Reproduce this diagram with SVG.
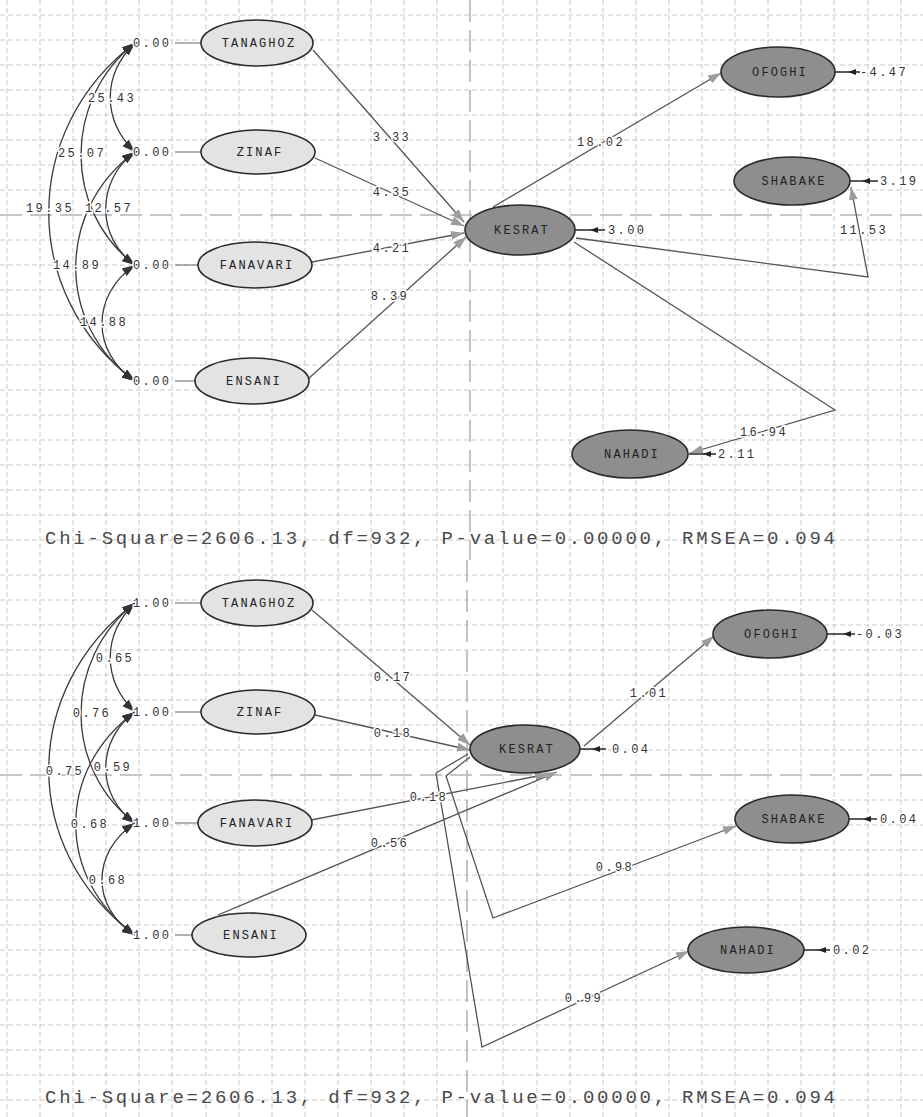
<svg xmlns="http://www.w3.org/2000/svg" width="923" height="1117" viewBox="0 0 923 1117">
<style>
.grid{fill:none;stroke:#c9c9c9;stroke-width:1;stroke-dasharray:5 3}
.axis{fill:none;stroke:#b4b4b4;stroke-width:1.6;stroke-dasharray:22 8}
.exo{fill:#e3e3e3;stroke:#2a2a2a;stroke-width:1.6}
.endo{fill:#8e8e8e;stroke:#2a2a2a;stroke-width:1.6}
.nl{font-family:"Liberation Mono",monospace;font-size:12px;letter-spacing:2.1px;fill:#222;text-anchor:middle}
.val{font-family:"Liberation Mono",monospace;font-size:12px;letter-spacing:2.4px;fill:#333;paint-order:stroke;stroke:#fff;stroke-width:3px}
.cv{text-anchor:middle}
.cov{fill:none;stroke:#3a3a3a;stroke-width:1.3;marker-start:url(#ad);marker-end:url(#ad)}
.pth{fill:none;stroke:#555;stroke-width:1.3;marker-end:url(#ag)}
.var{fill:none;stroke:#666;stroke-width:1.2}
.err{fill:none;stroke:#333;stroke-width:1.6;marker-mid:url(#ae)}
.chi{font-family:"Liberation Mono",monospace;font-size:19px;fill:#4a4a4a}
</style>
<defs>
<marker id="ag" viewBox="0 0 13 9" refX="13" refY="4.5" markerWidth="13" markerHeight="9" markerUnits="userSpaceOnUse" orient="auto"><path d="M0,0 L13,4.5 L0,9 z" fill="#9c9c9c"/></marker>
<marker id="ad" viewBox="0 0 13 9" refX="13" refY="4.5" markerWidth="13" markerHeight="9" markerUnits="userSpaceOnUse" orient="auto-start-reverse"><path d="M0,0 L13,4.5 L0,9 z" fill="#333"/></marker>
<marker id="ae" viewBox="0 0 8 6" refX="4" refY="3" markerWidth="8" markerHeight="6" markerUnits="userSpaceOnUse" orient="auto"><path d="M0,0 L8,3 L0,6 z" fill="#222"/></marker>
</defs>
<rect width="923" height="1117" fill="#fff"/>
<g id="grid">
<path class="grid" d="M7 0V1117M40 0V1117M73 0V1117M106 0V1117M139 0V1117M172 0V1117M206 0V1117M239 0V1117M272 0V1117M305 0V1117M338 0V1117M371 0V1117M404 0V1117M437 0V1117M503 0V1117M537 0V1117M570 0V1117M603 0V1117M636 0V1117M669 0V1117M702 0V1117M735 0V1117M768 0V1117M801 0V1117M834 0V1117M868 0V1117M901 0V1117"/>
<path class="grid" d="M0 15H923M0 40H923M0 65H923M0 90H923M0 115H923M0 140H923M0 165H923M0 190H923M0 240H923M0 265H923M0 290H923M0 315H923M0 340H923M0 365H923M0 390H923M0 415H923M0 440H923M0 465H923M0 490H923M0 515H923M0 540H923"/>
<path class="grid" d="M0 575H923M0 600H923M0 625H923M0 650H923M0 675H923M0 700H923M0 725H923M0 750H923M0 800H923M0 825H923M0 850H923M0 875H923M0 900H923M0 925H923M0 950H923M0 975H923M0 1000H923M0 1025H923M0 1050H923M0 1075H923M0 1100H923"/>
<path class="axis" d="M470 0V560M467 560V1117M0 215H923M0 775H923"/>
</g>

<g id="connectors">
<path class="cov" d="M135,43 C102,75 102,120 135,152"/>
<path class="cov" d="M135,43 C63,100 63,210 135,265"/>
<path class="cov" d="M135,43 C20,130 20,295 135,381"/>
<path class="cov" d="M135,152 C96,180 96,238 135,265"/>
<path class="cov" d="M135,152 C56,210 56,325 135,381"/>
<path class="cov" d="M135,265 C91,295 91,352 135,381"/>
<path class="var" d="M175,43H201M175,152H201M175,265H198M175,381H195"/>
<path class="pth" d="M313,50 L464,222"/>
<path class="pth" d="M315,158 L464,226"/>
<path class="pth" d="M312,262 L464,233"/>
<path class="pth" d="M308,379 L466,237"/>
<path class="pth" d="M493,207 L721,73"/>
<path class="pth" d="M576,238 L868,277 L851,187"/>
<path class="pth" d="M574,242 L835,410 L690,453"/>
<path class="err" d="M860,72 L852,72 L835,72"/>
<path class="err" d="M878,181 L866,181 L850,181"/>
<path class="err" d="M605,230 L594,230 L575,230"/>
<path class="err" d="M716,454 L707,454 L689,454"/>

<path class="cov" d="M135,603 C102,635 102,680 135,712"/>
<path class="cov" d="M135,603 C63,660 63,768 135,823"/>
<path class="cov" d="M135,603 C20,690 20,850 135,935"/>
<path class="cov" d="M135,712 C96,740 96,796 135,823"/>
<path class="cov" d="M135,712 C56,770 56,878 135,935"/>
<path class="cov" d="M135,823 C91,852 91,908 135,935"/>
<path class="var" d="M175,603H201M175,712H201M175,823H198M175,935H192"/>
<path class="pth" d="M312,610 L470,745"/>
<path class="pth" d="M315,715 L470,750"/>
<path class="pth" d="M311,820 L548,774"/>
<path class="pth" d="M218,915 L557,772"/>
<path class="pth" d="M584,746 L714,636"/>
<path class="pth" d="M468,754 L436,773 L482,1047 L689,951"/>
<path class="pth" d="M470,757 L446,776 L493,918 L736,826"/>
<path class="err" d="M606,749 L596,749 L580,749"/>
<path class="err" d="M855,634 L847,634 L827,634"/>
<path class="err" d="M877,819 L867,819 L849,819"/>
<path class="err" d="M830,950 L822,950 L804,950"/>
</g>

<g id="labels">
<text class="val" x="133" y="47">0.00</text>
<text class="val" x="133" y="156">0.00</text>
<text class="val" x="133" y="269">0.00</text>
<text class="val" x="133" y="385">0.00</text>
<text class="val cv" x="112" y="102">25.43</text>
<text class="val cv" x="82" y="157">25.07</text>
<text class="val cv" x="50" y="212">19.35</text>
<text class="val cv" x="109" y="212">12.57</text>
<text class="val cv" x="77" y="269">14.89</text>
<text class="val cv" x="104" y="326">14.88</text>
<text class="val cv" x="392" y="141">3.33</text>
<text class="val cv" x="392" y="196">4.35</text>
<text class="val cv" x="392" y="252">4.21</text>
<text class="val cv" x="390" y="300">8.39</text>
<text class="val cv" x="601" y="146">18.02</text>
<text class="val cv" x="864" y="234">11.53</text>
<text class="val cv" x="764" y="436">16.94</text>
<text class="val" x="860" y="76">-4.47</text>
<text class="val" x="880" y="185">3.19</text>
<text class="val" x="608" y="234">3.00</text>
<text class="val" x="718" y="458">2.11</text>
<text class="chi" x="45" y="544" textLength="790" lengthAdjust="spacing">Chi-Square=2606.13, df=932, P-value=0.00000, RMSEA=0.094</text>

<text class="val" x="133" y="607">1.00</text>
<text class="val" x="133" y="716">1.00</text>
<text class="val" x="133" y="827">1.00</text>
<text class="val" x="133" y="939">1.00</text>
<text class="val cv" x="115" y="662">0.65</text>
<text class="val cv" x="92" y="717">0.76</text>
<text class="val cv" x="65" y="775">0.75</text>
<text class="val cv" x="113" y="771">0.59</text>
<text class="val cv" x="90" y="828">0.68</text>
<text class="val cv" x="108" y="884">0.68</text>
<text class="val cv" x="393" y="681">0.17</text>
<text class="val cv" x="393" y="737">0.18</text>
<text class="val cv" x="429" y="801">0.18</text>
<text class="val cv" x="390" y="847">0.56</text>
<text class="val cv" x="649" y="697">1.01</text>
<text class="val cv" x="615" y="871">0.98</text>
<text class="val cv" x="584" y="1002">0.99</text>
<text class="val" x="612" y="753">0.04</text>
<text class="val" x="856" y="638">-0.03</text>
<text class="val" x="880" y="823">0.04</text>
<text class="val" x="833" y="954">0.02</text>
<text class="chi" x="45" y="1103" textLength="790" lengthAdjust="spacing">Chi-Square=2606.13, df=932, P-value=0.00000, RMSEA=0.094</text>
</g>

<g id="t-tanaghoz"><ellipse class="exo" cx="257" cy="43" rx="56" ry="23"/><text class="nl" x="259" y="47">TANAGHOZ</text></g>
<g id="t-zinaf"><ellipse class="exo" cx="258" cy="152" rx="57" ry="22"/><text class="nl" x="260" y="156">ZINAF</text></g>
<g id="t-fanavari"><ellipse class="exo" cx="255" cy="265" rx="57" ry="23"/><text class="nl" x="257" y="269">FANAVARI</text></g>
<g id="t-ensani"><ellipse class="exo" cx="252" cy="381" rx="57" ry="23"/><text class="nl" x="254" y="385">ENSANI</text></g>
<g id="t-kesrat"><ellipse class="endo" cx="520" cy="230" rx="55" ry="25"/><text class="nl" x="522" y="234">KESRAT</text></g>
<g id="t-ofoghi"><ellipse class="endo" cx="778" cy="72" rx="57" ry="25"/><text class="nl" x="780" y="76">OFOGHI</text></g>
<g id="t-shabake"><ellipse class="endo" cx="792" cy="181" rx="58" ry="24"/><text class="nl" x="794" y="185">SHABAKE</text></g>
<g id="t-nahadi"><ellipse class="endo" cx="630" cy="454" rx="58" ry="24"/><text class="nl" x="632" y="458">NAHADI</text></g>

<g id="b-tanaghoz"><ellipse class="exo" cx="257" cy="603" rx="56" ry="23"/><text class="nl" x="259" y="607">TANAGHOZ</text></g>
<g id="b-zinaf"><ellipse class="exo" cx="258" cy="712" rx="57" ry="22"/><text class="nl" x="260" y="716">ZINAF</text></g>
<g id="b-fanavari"><ellipse class="exo" cx="255" cy="823" rx="57" ry="23"/><text class="nl" x="257" y="827">FANAVARI</text></g>
<g id="b-ensani"><ellipse class="exo" cx="249" cy="935" rx="57" ry="22"/><text class="nl" x="251" y="939">ENSANI</text></g>
<g id="b-kesrat"><ellipse class="endo" cx="525" cy="749" rx="55" ry="24"/><text class="nl" x="527" y="753">KESRAT</text></g>
<g id="b-ofoghi"><ellipse class="endo" cx="770" cy="634" rx="57" ry="24"/><text class="nl" x="772" y="638">OFOGHI</text></g>
<g id="b-shabake"><ellipse class="endo" cx="792" cy="819" rx="57" ry="24"/><text class="nl" x="794" y="823">SHABAKE</text></g>
<g id="b-nahadi"><ellipse class="endo" cx="746" cy="950" rx="58" ry="23"/><text class="nl" x="748" y="954">NAHADI</text></g>
</svg>
